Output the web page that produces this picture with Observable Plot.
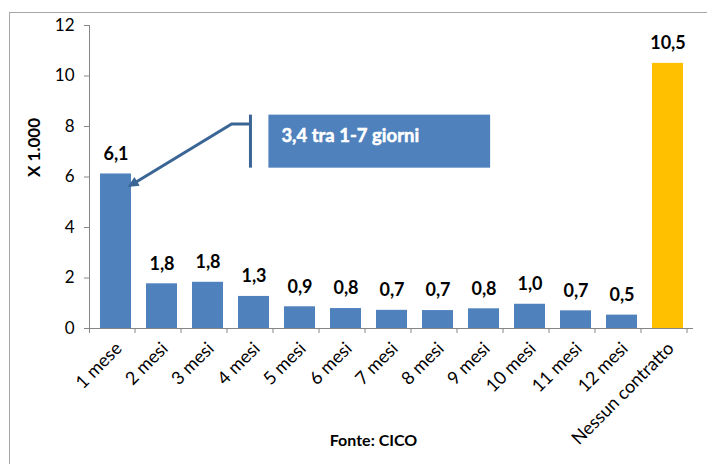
<!DOCTYPE html>
<html><head><meta charset="utf-8">
<script src="https://cdn.jsdelivr.net/npm/d3@7"></script>
<script src="https://cdn.jsdelivr.net/npm/@observablehq/plot@0.6"></script>
<style>
body{margin:0;background:#fff;}
#wrap{position:relative;width:707px;height:464px;overflow:hidden;}
#frame{position:absolute;left:9px;top:12px;width:800px;height:600px;border-left:1px solid #a6a6a6;border-top:1px solid #a6a6a6;}
#chart{position:absolute;left:0;top:0;}
</style></head><body>
<div id="wrap"><div id="frame"></div><div id="chart"></div></div>
<script>
const categories = ["1 mese","2 mesi","3 mesi","4 mesi","5 mesi","6 mesi","7 mesi","8 mesi","9 mesi","10 mesi","11 mesi","12 mesi","Nessun contratto"];
const values = [6.12, 1.77, 1.83, 1.27, 0.86, 0.79, 0.72, 0.71, 0.78, 0.96, 0.70, 0.53, 10.5];
const labels = ["6,1","1,8","1,8","1,3","0,9","0,8","0,7","0,7","0,8","1,0","0,7","0,5","10,5"];
const groups = ["durata","durata","durata","durata","durata","durata","durata","durata","durata","durata","durata","durata","nessuno"];
const yTicks = [0, 2, 4, 6, 8, 10, 12];
const yTitle = "X 1.000";
const annotationText = "3,4 tra 1-7 giorni";
const caption = "Fonte: CICO";

const data = categories.map((c, i) => ({category: c, value: values[i], label: labels[i], group: groups[i]}));
const FONT = "Lato, 'Open Sans', sans-serif";
const AXIS = "#868686";

function bandHelpers(scales) {
  const x = scales.x;
  const r = x.range();
  const step = typeof x.step === "function" ? x.step() : (r[1] - r[0]) / categories.length;
  return {r, step, bx: u => r[0] + u * step};
}

// y axis line + category boundary ticks
function axisDecor(index, scales) {
  const {bx} = bandHelpers(scales);
  const y = scales.y;
  const g = d3.create("svg:g").attr("stroke", AXIS).attr("stroke-width", 1);
  g.append("line").attr("x1", bx(0) + 0.5).attr("x2", bx(0) + 0.5)
    .attr("y1", y(yTicks[yTicks.length - 1])).attr("y2", y(0) + 5);
  for (let i = 1; i <= categories.length; i++) {
    g.append("line").attr("x1", bx(i)).attr("x2", bx(i)).attr("y1", y(0)).attr("y2", y(0) + 5);
  }
  return g.node();
}

// callout box with bracket and arrow pointing to first bar
function callout(index, scales) {
  const {bx} = bandHelpers(scales);
  const y = scales.y;
  const g = d3.create("svg:g");
  const x0 = bx(3.9), x1 = bx(8.72), yt = y(8.45), yb = y(6.35);
  g.append("rect").attr("x", x0).attr("y", yt).attr("width", x1 - x0).attr("height", yb - yt).attr("fill", "#4F81BD");
  g.append("text").attr("x", x0 + 13).attr("y", yt + 27).attr("fill", "#fff").attr("text-anchor", "start")
    .attr("stroke", "#fff").attr("stroke-width", 0.5)
    .style("font-family", FONT).style("font-weight", "700").style("font-size", "18.5px").text(annotationText);
  const col = "#3A6594";
  const bxx = bx(3.51);
  g.append("line").attr("x1", bxx).attr("x2", bxx).attr("y1", yt).attr("y2", yb)
    .attr("stroke", col).attr("stroke-width", 3);
  const ex = bx(3.1), ey = y(8.08);
  const tx = bx(0.84), ty = y(5.58);
  const dx = tx - ex, dy = ty - ey, len = Math.hypot(dx, dy);
  const ux = dx / len, uy = dy / len;
  const hl = 11, hw = 5;
  const lx = tx - ux * (hl - 2), ly = ty - uy * (hl - 2);
  g.append("path").attr("d", `M${bxx},${ey}L${ex},${ey}L${lx},${ly}`)
    .attr("fill", "none").attr("stroke", col).attr("stroke-width", 3).attr("stroke-linejoin", "miter");
  const bxp = tx - ux * hl, byp = ty - uy * hl;
  g.append("path").attr("d", `M${tx},${ty}L${bxp - uy * hw},${byp + ux * hw}L${bxp + uy * hw},${byp - ux * hw}Z`)
    .attr("fill", col);
  return g.node();
}

const plot = Plot.plot({
  width: 707,
  height: 464,
  marginLeft: 89,
  marginRight: 14,
  marginTop: 25,
  marginBottom: 136,
  style: {fontFamily: FONT, background: "transparent", color: "#000"},
  x: {domain: categories, paddingInner: 0.33, paddingOuter: 0.165, label: null},
  y: {domain: [0, 12], label: null},
  color: {domain: ["durata", "nessuno"], range: ["#4F81BD", "#FFC000"]},
  marks: [
    Plot.barY(data, {x: "category", y: "value", fill: "group"}),
    Plot.ruleY([0], {stroke: AXIS}),
    axisDecor,
    Plot.axisY(yTicks, {tickSize: 5, tickPadding: 10, stroke: AXIS, fill: "#000", fontSize: 17, label: null}),
    Plot.axisX({tickSize: 0, tickPadding: 17, dx: 3, tickRotate: -45, fontSize: 18, fill: "#000", label: null}),
    Plot.text(data, {x: "category", y: "value", text: "label", dy: -20, fontWeight: "bold", fontSize: 18, fill: "#000"}),
    Plot.text([yTitle], {frameAnchor: "left", dx: -55, rotate: -90, fontWeight: "bold", fontSize: 17, fill: "#000"}),
    Plot.text([caption], {frameAnchor: "bottom", dy: 117, dx: -18, fontWeight: "bold", fontSize: 16, fill: "#000"}),
    callout
  ]
});
document.getElementById("chart").appendChild(plot);
</script>
</body></html>
